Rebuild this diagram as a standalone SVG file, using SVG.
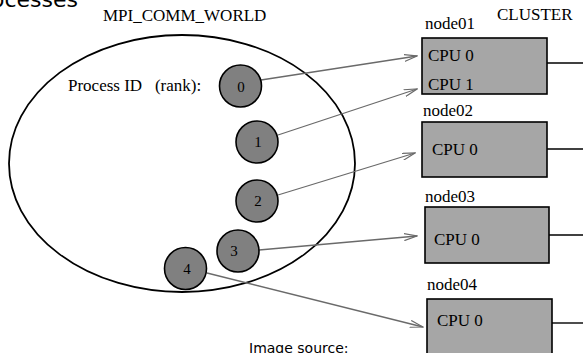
<svg xmlns="http://www.w3.org/2000/svg" width="583" height="353" viewBox="0 0 583 353">
<defs>
<style>
.s{font-family:"Liberation Serif","Times New Roman",serif;font-size:17px;fill:#000}
.d{font-family:"Liberation Serif","Times New Roman",serif;font-size:15px;fill:#000;text-anchor:middle}
.p{fill:#808080;stroke:#000;stroke-width:1.6}
.b{fill:#a6a6a6;stroke:#000;stroke-width:1.6}
.w{stroke:#000;stroke-width:1.4;fill:none}
.a{stroke:#6a6a6a;stroke-width:1.3;fill:none;marker-end:url(#ah)}
</style>
<marker id="ah" viewBox="0 0 14 8" refX="13" refY="4" markerWidth="14" markerHeight="8" markerUnits="userSpaceOnUse" orient="auto">
<path d="M0,0.5 L13,4 L0,7.5" fill="none" stroke="#6a6a6a" stroke-width="1.2"/>
</marker>
</defs>
<rect width="583" height="353" fill="#fff"/>
<text x="78" y="7" text-anchor="end" style="font-family:'DejaVu Sans',sans-serif;font-size:22px">Processes</text>
<text class="s" x="103" y="21">MPI_COMM_WORLD</text>
<text class="s" x="497" y="20">CLUSTER</text>
<g id="world">
<ellipse cx="182" cy="163.5" rx="173" ry="128.5" fill="none" stroke="#000" stroke-width="1.8"/>
<text class="s" x="68" y="91" xml:space="preserve">Process ID   (rank):</text>
</g>
<g id="connectors">
<line class="a" x1="261" y1="80" x2="417" y2="56"/>
<line class="a" x1="278" y1="135" x2="417" y2="89"/>
<line class="a" x1="278" y1="195" x2="415" y2="153"/>
<line class="a" x1="259" y1="250" x2="417" y2="236"/>
<line class="a" x1="207" y1="273" x2="423" y2="327"/>
<line class="w" x1="547" y1="63" x2="583" y2="63"/>
<line class="w" x1="547" y1="149" x2="583" y2="149"/>
<line class="w" x1="549" y1="235" x2="583" y2="235"/>
<line class="w" x1="552" y1="323" x2="583" y2="323"/>
</g>
<g id="p0"><circle class="p" cx="240.5" cy="86" r="21"/><text class="d" x="241" y="92">0</text></g>
<g id="p1"><circle class="p" cx="257" cy="142" r="21"/><text class="d" x="258" y="147">1</text></g>
<g id="p2"><circle class="p" cx="257" cy="201" r="21"/><text class="d" x="258" y="206">2</text></g>
<g id="p3"><circle class="p" cx="238" cy="251" r="21"/><text class="d" x="234" y="256">3</text></g>
<g id="p4"><circle class="p" cx="185.5" cy="268.5" r="21"/><text class="d" x="187" y="274">4</text></g>
<g id="node01"><text class="s" x="425" y="29">node01</text><rect class="b" x="422" y="38" width="125" height="56"/><text class="s" x="428" y="61">CPU 0</text><text class="s" x="428" y="90">CPU 1</text></g>
<g id="node02"><text class="s" x="423" y="116">node02</text><rect class="b" x="422" y="122" width="125" height="55"/><text class="s" x="432" y="155">CPU 0</text></g>
<g id="node03"><text class="s" x="425" y="202">node03</text><rect class="b" x="425" y="207" width="124" height="56"/><text class="s" x="434" y="245">CPU 0</text></g>
<g id="node04"><text class="s" x="427" y="290">node04</text><rect class="b" x="427" y="299" width="125" height="60"/><text class="s" x="437" y="326">CPU 0</text></g>
<text x="249" y="353" style="font-family:'DejaVu Sans',sans-serif;font-size:14px">Image source:</text>
</svg>
